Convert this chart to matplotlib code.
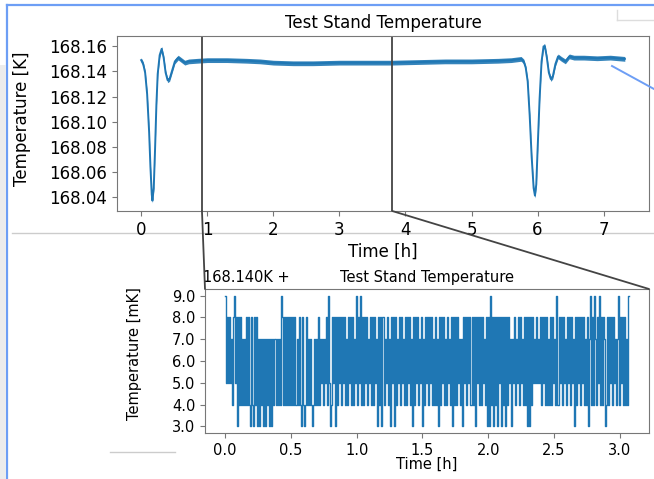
import matplotlib
matplotlib.use('Agg')
import matplotlib.pyplot as plt
from matplotlib.lines import Line2D
from matplotlib.patches import ConnectionPatch, Rectangle
import numpy as np

# Top chart: temperature over the full run (K)
temp_time = [0.00, 0.03, 0.06, 0.09, 0.12, 0.14, 0.16, 0.17, 0.19, 0.21,
             0.23, 0.25, 0.28, 0.31, 0.34, 0.37, 0.40, 0.43, 0.47, 0.51,
             0.56, 0.61, 0.66, 0.72, 0.85, 1.0, 1.3, 1.6, 1.8, 2.0,
             2.3, 2.6, 3.0, 3.4, 3.8, 4.2, 4.6, 5.0, 5.4, 5.6,
             5.75, 5.79, 5.82, 5.85, 5.88, 5.91, 5.94, 5.96, 5.98, 6.00,
             6.03, 6.06, 6.09, 6.11, 6.14, 6.17, 6.20, 6.23, 6.27, 6.31,
             6.36, 6.42, 6.48, 6.55, 6.7, 6.9, 7.1, 7.32]
temp_k = [168.149, 168.146, 168.139, 168.122, 168.092, 168.064, 168.042, 168.037, 168.047, 168.078,
          168.113, 168.138, 168.153, 168.158, 168.151, 168.139, 168.133, 168.134, 168.141, 168.148,
          168.151, 168.149, 168.147, 168.148, 168.1485, 168.149, 168.149, 168.1485, 168.148, 168.147,
          168.1465, 168.1465, 168.147, 168.147, 168.147, 168.1475, 168.148, 168.148, 168.1485, 168.149,
          168.150, 168.148, 168.143, 168.132, 168.105, 168.072, 168.047, 168.041, 168.050, 168.078,
          168.118, 168.148, 168.160, 168.160, 168.151, 168.139, 168.134, 168.136, 168.146, 168.152,
          168.150, 168.148, 168.152, 168.151, 168.151, 168.1505, 168.151, 168.150]
noise_k = 0.0019

# zoomed window (h) marked in the top chart
zoom_start = 0.92
zoom_end = 3.80

# Bottom chart: readings in mK above 168.140 K, one digit per sample
zoom_rows = [
    "95858574895838484747484843843848373747373747373747",
    "74747498484848484848474843843484747434747484757475",
    "84953485838485848584748584847594859484858475848485",
    "73848384758473858384758485748485847384858475837485",
    "84858474847384858474857483848485747385848584848385",
    "84848574838394838483858384838485737584758485748483",
    "83848575857584858484748485749485848574858485738485",
    "84858474837948497485948487348485848574794858484749",
]
zoom_mk = [int(c) for row in zoom_rows for c in row]
zoom_end_h = 3.07
zoom_time = np.linspace(0, zoom_end_h, len(zoom_mk))

W, H = 654, 479
blue = '#1f77b4'
frame = '#777777'

fig = plt.figure(figsize=(W / 100, H / 100), dpi=100)


def px(x, y):
    return x / W, 1 - y / H


# screenshot surroundings
fig.add_artist(Rectangle(px(0, 479), 6 / W, 414 / H, transform=fig.transFigure,
                         color='#ececec', lw=0))
for (x0, y0), (x1, y1), c, lw, z in [
    ((0, 66), (6, 66), '#555555', 1.0, 0),
    ((12, 233), (654, 233), '#cccccc', 1.0, 0),
    ((110, 452), (175, 452), '#cccccc', 1.0, 0),
    ((617, 10), (617, 20), '#dddddd', 1.0, 0),
    ((617, 20), (654, 20), '#dddddd', 1.0, 0),
    ((7, 5), (7, 479), '#6d9ef5', 1.6, 0),
    ((7, 5), (654, 5), '#6d9ef5', 1.6, 0),
    ((612, 66), (654, 89), '#6d9ef5', 1.4, 5),
]:
    a, b = px(x0, y0), px(x1, y1)
    fig.add_artist(Line2D([a[0], b[0]], [a[1], b[1]], transform=fig.transFigure,
                          color=c, lw=lw, zorder=z))

# top chart
ax1 = fig.add_axes([117 / W, 1 - 211 / H, 532 / W, 175 / H])
temp_arr = np.array(temp_k)
ax1.fill_between(temp_time, temp_arr - noise_k, temp_arr + noise_k, color=blue, lw=0, alpha=0.9)
ax1.plot(temp_time, temp_k, color=blue, lw=1.4)
ax1.set_title('Test Stand Temperature', fontsize=12, pad=6)
ax1.set_xlabel('Time [h]', fontsize=12, labelpad=3)
ax1.set_ylabel('Temperature [K]', fontsize=12)
ax1.yaxis.set_label_coords(-0.162, 0.526)
ax1.set_xticks(range(0, 8))
ax1.set_yticks(np.arange(168.04, 168.1601, 0.02))
ax1.yaxis.set_major_formatter(plt.FormatStrFormatter('%.2f'))
ax1.tick_params(labelsize=12, color=frame)
for s in ax1.spines.values():
    s.set_color(frame)
ax1.axvline(zoom_start, color='#444444', lw=1.3)
ax1.axvline(zoom_end, color='#444444', lw=1.3)

# zoomed chart
ax2 = fig.add_axes([205 / W, 1 - 433 / H, 444 / W, 144 / H])
ax2.plot(zoom_time, zoom_mk, color=blue, lw=1.0, drawstyle='steps-mid')
ax2.set_title('Test Stand Temperature', fontsize=10.5, pad=5)
ax2.text(-0.005, 1.025, '168.140K +', transform=ax2.transAxes, fontsize=10.5,
         ha='left', va='bottom')
ax2.set_xlabel('Time [h]', fontsize=10.5, labelpad=-1)
ax2.set_ylabel('Temperature [mK]', fontsize=10.5)
ax2.yaxis.set_label_coords(-0.142, 0.55)
ax2.set_xticks(np.arange(0, 3.01, 0.5))
ax2.set_yticks(np.arange(3, 9.01, 1))
ax2.xaxis.set_major_formatter(plt.FormatStrFormatter('%.1f'))
ax2.yaxis.set_major_formatter(plt.FormatStrFormatter('%.1f'))
ax2.tick_params(labelsize=10.5, color=frame)
for s in ax2.spines.values():
    s.set_color(frame)

# connectors between the marked window and the zoomed chart
y_low = ax1.get_ylim()[0]
for xa, xb in [(zoom_start, 0), (zoom_end, 1)]:
    con = ConnectionPatch(xyA=(xa, y_low), coordsA=ax1.transData,
                          xyB=(xb, 1), coordsB=ax2.transAxes,
                          color='#444444', lw=1.3)
    fig.add_artist(con)

fig.savefig('out.png', dpi=100)
